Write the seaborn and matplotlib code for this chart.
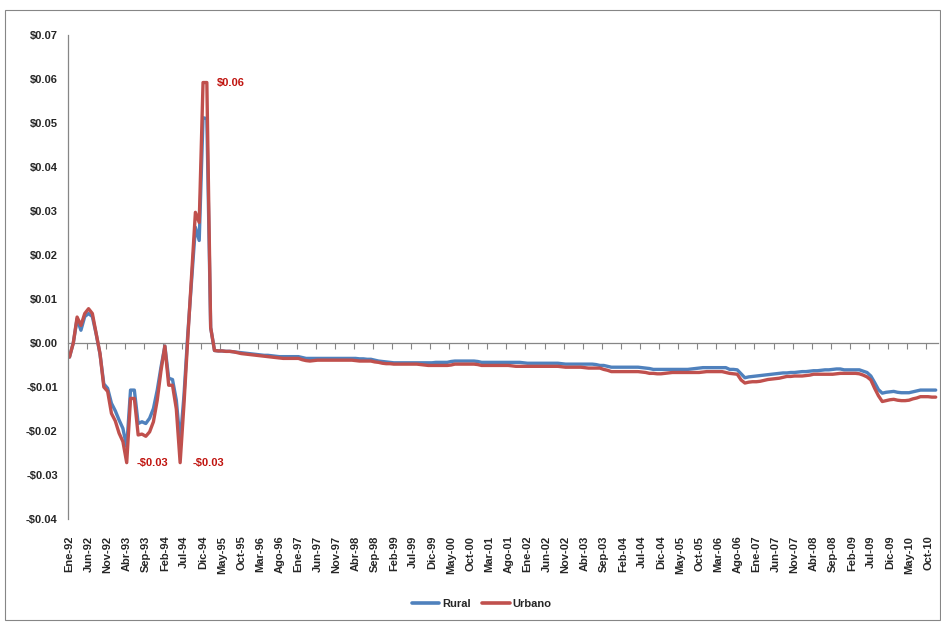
#! /usr/bin/env python3

import numpy as np
import pandas as pd
import matplotlib
matplotlib.use("Agg")
import matplotlib.pyplot as plt
from matplotlib.patches import Rectangle
from matplotlib.lines import Line2D
import seaborn as sns

sns.set_style("white")
plt.rcParams['font.family'] = ['Liberation Sans Narrow', 'Liberation Sans', 'DejaVu Sans']

meses = ["Ene", "Feb", "Mar", "Abr", "May", "Jun", "Jul", "Ago", "Sep", "Oct", "Nov", "Dic"]
years = list(range(1992, 2011))
fechas = [f"{m}-{str(y)[2:]}" for y in years for m in meses]

rural = [
    -0.0032, 0.0000, 0.0055, 0.0029, 0.0060, 0.0067, 0.0060, 0.0020, -0.0025, -0.0093, -0.0103, -0.0137,
    -0.0154, -0.0175, -0.0194, -0.0236, -0.0107, -0.0107, -0.0183, -0.0179, -0.0183, -0.0171, -0.0149, -0.0107,
    -0.0054, -0.0007, -0.0080, -0.0083, -0.0130, -0.0225, -0.0120, 0.0020, 0.0140, 0.0263, 0.0233, 0.0512,
    0.0510, 0.0035, -0.0017, -0.0018, -0.0018, -0.0019, -0.0019, -0.0020, -0.0021, -0.0022, -0.0023, -0.0024,
    -0.0025, -0.0026, -0.0027, -0.0028, -0.0028, -0.0029, -0.0030, -0.0031, -0.0031, -0.0031, -0.0031, -0.0031,
    -0.0031, -0.0033, -0.0035, -0.0035, -0.0035, -0.0035, -0.0035, -0.0035, -0.0035, -0.0035, -0.0035, -0.0035,
    -0.0035, -0.0035, -0.0035, -0.0035, -0.0036, -0.0036, -0.0037, -0.0037, -0.0039, -0.0041, -0.0042, -0.0043,
    -0.0044, -0.0045, -0.0045, -0.0045, -0.0045, -0.0045, -0.0045, -0.0045, -0.0045, -0.0045, -0.0045, -0.0045,
    -0.0044, -0.0044, -0.0044, -0.0044, -0.0042, -0.0041, -0.0041, -0.0041, -0.0041, -0.0041, -0.0041, -0.0042,
    -0.0044, -0.0044, -0.0044, -0.0044, -0.0044, -0.0044, -0.0044, -0.0044, -0.0044, -0.0044, -0.0044, -0.0045,
    -0.0046, -0.0046, -0.0046, -0.0046, -0.0046, -0.0046, -0.0046, -0.0046, -0.0046, -0.0047, -0.0048, -0.0048,
    -0.0048, -0.0048, -0.0048, -0.0048, -0.0048, -0.0048, -0.0049, -0.0051, -0.0051, -0.0053, -0.0055, -0.0055,
    -0.0055, -0.0055, -0.0055, -0.0055, -0.0055, -0.0055, -0.0056, -0.0057, -0.0058, -0.0060, -0.0060, -0.0060,
    -0.0060, -0.0060, -0.0060, -0.0060, -0.0060, -0.0060, -0.0060, -0.0059, -0.0058, -0.0057, -0.0056, -0.0056,
    -0.0056, -0.0056, -0.0056, -0.0056, -0.0056, -0.0060, -0.0060, -0.0061, -0.0070, -0.0079, -0.0077, -0.0076,
    -0.0075, -0.0074, -0.0073, -0.0072, -0.0071, -0.0070, -0.0069, -0.0068, -0.0068, -0.0067, -0.0067, -0.0066,
    -0.0065, -0.0065, -0.0064, -0.0063, -0.0063, -0.0062, -0.0061, -0.0061, -0.0060, -0.0059, -0.0059, -0.0061,
    -0.0061, -0.0061, -0.0061, -0.0061, -0.0064, -0.0067, -0.0075, -0.0090, -0.0106, -0.0114, -0.0112, -0.0111,
    -0.0110, -0.0112, -0.0113, -0.0113, -0.0113, -0.0111, -0.0109, -0.0107, -0.0107, -0.0107, -0.0107, -0.0107,
]

urbano = [
    -0.0032, 0.0000, 0.0059, 0.0040, 0.0067, 0.0078, 0.0067, 0.0021, -0.0024, -0.0100, -0.0110, -0.0160,
    -0.0177, -0.0205, -0.0224, -0.0272, -0.0126, -0.0126, -0.0209, -0.0207, -0.0212, -0.0202, -0.0179, -0.0130,
    -0.0062, -0.0007, -0.0096, -0.0096, -0.0150, -0.0272, -0.0140, 0.0010, 0.0155, 0.0297, 0.0274, 0.0592,
    0.0592, 0.0035, -0.0017, -0.0018, -0.0018, -0.0019, -0.0019, -0.0020, -0.0022, -0.0024, -0.0025, -0.0026,
    -0.0027, -0.0028, -0.0029, -0.0030, -0.0031, -0.0032, -0.0033, -0.0034, -0.0035, -0.0035, -0.0035, -0.0035,
    -0.0035, -0.0038, -0.0040, -0.0041, -0.0040, -0.0039, -0.0039, -0.0039, -0.0039, -0.0039, -0.0039, -0.0039,
    -0.0039, -0.0039, -0.0039, -0.0040, -0.0041, -0.0041, -0.0041, -0.0041, -0.0043, -0.0044, -0.0046, -0.0047,
    -0.0047, -0.0048, -0.0048, -0.0048, -0.0048, -0.0048, -0.0048, -0.0048, -0.0049, -0.0050, -0.0051, -0.0051,
    -0.0051, -0.0051, -0.0051, -0.0051, -0.0050, -0.0048, -0.0048, -0.0048, -0.0048, -0.0048, -0.0048, -0.0049,
    -0.0051, -0.0051, -0.0051, -0.0051, -0.0051, -0.0051, -0.0051, -0.0051, -0.0052, -0.0053, -0.0053, -0.0053,
    -0.0053, -0.0053, -0.0053, -0.0053, -0.0053, -0.0053, -0.0053, -0.0053, -0.0053, -0.0054, -0.0055, -0.0055,
    -0.0055, -0.0055, -0.0055, -0.0056, -0.0057, -0.0057, -0.0057, -0.0057, -0.0060, -0.0062, -0.0065, -0.0065,
    -0.0065, -0.0065, -0.0065, -0.0065, -0.0065, -0.0065, -0.0066, -0.0067, -0.0069, -0.0069, -0.0070, -0.0070,
    -0.0069, -0.0068, -0.0067, -0.0067, -0.0067, -0.0067, -0.0067, -0.0067, -0.0067, -0.0067, -0.0066, -0.0065,
    -0.0065, -0.0065, -0.0065, -0.0065, -0.0067, -0.0069, -0.0070, -0.0071, -0.0084, -0.0091, -0.0089, -0.0088,
    -0.0088, -0.0087, -0.0085, -0.0083, -0.0082, -0.0081, -0.0080, -0.0078, -0.0076, -0.0076, -0.0075, -0.0075,
    -0.0075, -0.0074, -0.0073, -0.0071, -0.0071, -0.0071, -0.0071, -0.0071, -0.0071, -0.0070, -0.0069, -0.0069,
    -0.0069, -0.0069, -0.0069, -0.0070, -0.0073, -0.0077, -0.0084, -0.0103, -0.0120, -0.0133, -0.0131, -0.0129,
    -0.0128, -0.0130, -0.0131, -0.0131, -0.0130, -0.0127, -0.0125, -0.0122, -0.0122, -0.0122, -0.0123, -0.0123,
]

# etiquetas de datos sobre la serie urbana: (indice del mes, texto, separacion en px)
etiquetas = [(36, "$0.06", 10), (15, "-$0.03", 10), (29, "-$0.03", 12)]

azul = "#4F81BD"
rojo = "#C0504D"

n = len(fechas)
df = pd.DataFrame({
    "mes": list(range(n)) * 2,
    "valor": rural + urbano,
    "serie": ["Rural"] * n + ["Urbano"] * n,
})

fig = plt.figure(figsize=(9.41, 6.22), dpi=100)
ax = fig.add_axes([0.0718, 0.1656, 0.9246, 0.7781])

sns.lineplot(data=df, x="mes", y="valor", hue="serie", palette=[azul, rojo],
             linewidth=2.4, ax=ax, legend=False)

ymin, ymax = -0.04, 0.07
ax.set_xlim(-0.5, n - 0.5)
ax.set_ylim(ymin, ymax)
ax.set_xlabel("")
ax.set_ylabel("")

# eje y
yt = np.arange(-0.04, 0.0701, 0.01)
ax.set_yticks(yt)
ax.set_yticklabels([("-$%.2f" % abs(v)) if v < -1e-9 else ("$%.2f" % abs(v)) for v in yt],
                   fontsize=8, fontweight="bold")
ax.tick_params(axis="y", direction="out", length=4, color="#868686", width=0.8, pad=3)

# eje x: etiquetas cada 5 meses abajo
pos = list(range(0, n, 5))
ax.set_xticks(pos)
ax.set_xticklabels([fechas[i] for i in pos], rotation=90, fontsize=8, fontweight="bold")
ax.tick_params(axis="x", length=0, pad=12)

for s in ["top", "right", "bottom"]:
    ax.spines[s].set_visible(False)
ax.spines["left"].set_color("#868686")
ax.spines["left"].set_linewidth(0.9)

# linea del cero con marcas entre categorias
cero = (0 - ymin) / (ymax - ymin)
sec = ax.secondary_xaxis(cero)
sec.set_xticks([i - 0.5 for i in range(5, n, 5)])
sec.set_xticklabels([])
sec.tick_params(direction="out", length=4, color="#868686", width=0.8)
sec.spines["bottom"].set_color("#868686")
sec.spines["bottom"].set_linewidth(0.9)
sec.spines["top"].set_visible(False)

for idx, txt, dx in etiquetas:
    ax.annotate(txt, xy=(idx, urbano[idx]), xytext=(dx * 0.72, 0),
                textcoords="offset points", ha="left", va="center",
                color="#C0140F", fontsize=8, fontweight="bold")

handles = [Line2D([], [], color=azul, lw=2.6), Line2D([], [], color=rojo, lw=2.6)]
fig.legend(handles, ["Rural", "Urbano"], loc="center", bbox_to_anchor=(0.5117, 0.029),
           ncol=2, frameon=False, prop={"size": 8, "weight": "bold"},
           handlelength=2.5, columnspacing=1.0, handletextpad=0.25)

fig.patches.append(Rectangle((0.005, 0.003), 0.994, 0.981, transform=fig.transFigure,
                             fill=False, edgecolor="#868686", linewidth=0.8))

fig.savefig("out.png", dpi=100)
